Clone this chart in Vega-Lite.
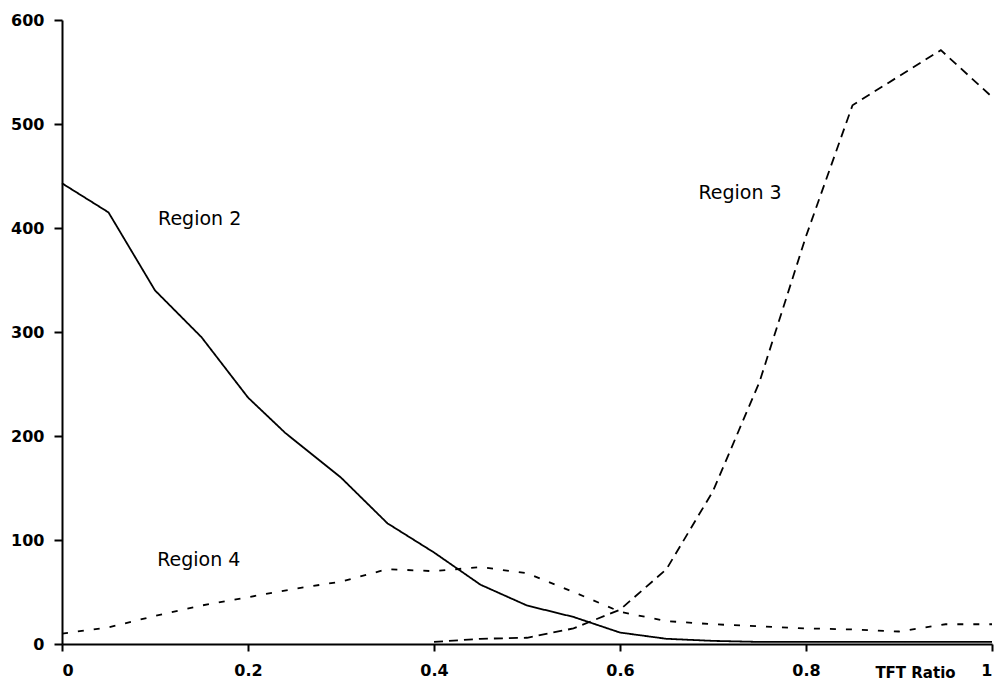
{
  "$schema": "https://vega.github.io/schema/vega-lite/v6.json",
  "width": 930,
  "height": 624,
  "autosize": {"type": "none"},
  "padding": {"left": 62, "top": 20, "right": 4, "bottom": 36},
  "background": "white",
  "config": {
    "view": {"stroke": null},
    "axis": {
      "grid": false,
      "domainColor": "black",
      "domainWidth": 2,
      "tickColor": "black",
      "tickWidth": 2,
      "labelColor": "black",
      "labelFont": "DejaVu Sans",
      "labelFontWeight": "bold",
      "labelFontSize": 16
    }
  },
  "datasets": {
    "lines": [
      {"series": "Region 2", "x": 0, "y": 443},
      {"series": "Region 2", "x": 0.05, "y": 415},
      {"series": "Region 2", "x": 0.1, "y": 340},
      {"series": "Region 2", "x": 0.15, "y": 295},
      {"series": "Region 2", "x": 0.2, "y": 237},
      {"series": "Region 2", "x": 0.24, "y": 203},
      {"series": "Region 2", "x": 0.3, "y": 160},
      {"series": "Region 2", "x": 0.35, "y": 116},
      {"series": "Region 2", "x": 0.4, "y": 88},
      {"series": "Region 2", "x": 0.45, "y": 57},
      {"series": "Region 2", "x": 0.5, "y": 37},
      {"series": "Region 2", "x": 0.55, "y": 26},
      {"series": "Region 2", "x": 0.6, "y": 11},
      {"series": "Region 2", "x": 0.65, "y": 5},
      {"series": "Region 2", "x": 0.7, "y": 3},
      {"series": "Region 2", "x": 0.75, "y": 2},
      {"series": "Region 2", "x": 0.8, "y": 2},
      {"series": "Region 2", "x": 0.85, "y": 2},
      {"series": "Region 2", "x": 0.9, "y": 2},
      {"series": "Region 2", "x": 0.95, "y": 2},
      {"series": "Region 2", "x": 1, "y": 2},
      {"series": "Region 3", "x": 0.4, "y": 2},
      {"series": "Region 3", "x": 0.45, "y": 5},
      {"series": "Region 3", "x": 0.5, "y": 6},
      {"series": "Region 3", "x": 0.55, "y": 15},
      {"series": "Region 3", "x": 0.6, "y": 33},
      {"series": "Region 3", "x": 0.65, "y": 72},
      {"series": "Region 3", "x": 0.7, "y": 147},
      {"series": "Region 3", "x": 0.75, "y": 252},
      {"series": "Region 3", "x": 0.8, "y": 392},
      {"series": "Region 3", "x": 0.85, "y": 518},
      {"series": "Region 3", "x": 0.9, "y": 546},
      {"series": "Region 3", "x": 0.945, "y": 571},
      {"series": "Region 3", "x": 1, "y": 526},
      {"series": "Region 4", "x": 0, "y": 10},
      {"series": "Region 4", "x": 0.05, "y": 16},
      {"series": "Region 4", "x": 0.1, "y": 27},
      {"series": "Region 4", "x": 0.15, "y": 37},
      {"series": "Region 4", "x": 0.2, "y": 45},
      {"series": "Region 4", "x": 0.25, "y": 53},
      {"series": "Region 4", "x": 0.3, "y": 60},
      {"series": "Region 4", "x": 0.35, "y": 72},
      {"series": "Region 4", "x": 0.4, "y": 70},
      {"series": "Region 4", "x": 0.45, "y": 74},
      {"series": "Region 4", "x": 0.5, "y": 68},
      {"series": "Region 4", "x": 0.55, "y": 50},
      {"series": "Region 4", "x": 0.6, "y": 31},
      {"series": "Region 4", "x": 0.65, "y": 22},
      {"series": "Region 4", "x": 0.7, "y": 19},
      {"series": "Region 4", "x": 0.75, "y": 17},
      {"series": "Region 4", "x": 0.8, "y": 15},
      {"series": "Region 4", "x": 0.85, "y": 14},
      {"series": "Region 4", "x": 0.9, "y": 12},
      {"series": "Region 4", "x": 0.95, "y": 19},
      {"series": "Region 4", "x": 1, "y": 19}
    ],
    "labels": [
      {"label": "Region 2", "x": 0.148, "y": 409},
      {"label": "Region 3", "x": 0.729, "y": 434},
      {"label": "Region 4", "x": 0.147, "y": 81}
    ]
  },
  "layer": [
    {
      "data": {"name": "lines"},
      "mark": {"type": "line", "strokeWidth": 1.8, "color": "black"},
      "encoding": {
        "x": {
          "field": "x",
          "type": "quantitative",
          "scale": {"domain": [0, 1], "nice": false, "zero": false},
          "axis": {
            "values": [0, 0.2, 0.4, 0.6, 0.8, 1],
            "labelExpr": "datum.value + ''",
            "tickSize": 7,
            "labelPadding": 11,
            "title": "TFT Ratio",
            "titleFont": "DejaVu Sans",
            "titleFontWeight": "bold",
            "titleFontSize": 15,
            "titleColor": "black",
            "titleX": 853,
            "titleY": 28,
            "titleAlign": "center",
            "titleBaseline": "middle",
            "titleAnchor": null
          }
        },
        "y": {
          "field": "y",
          "type": "quantitative",
          "scale": {"domain": [0, 600], "nice": false},
          "axis": {
            "values": [0, 100, 200, 300, 400, 500, 600],
            "tickSize": 8,
            "labelPadding": 10,
            "title": null
          }
        },
        "strokeDash": {
          "field": "series",
          "type": "nominal",
          "scale": {"domain": ["Region 2", "Region 3", "Region 4"], "range": [[1, 0], [9, 6], [6, 10]]},
          "legend": null
        }
      }
    },
    {
      "data": {"name": "labels"},
      "mark": {"type": "text", "font": "DejaVu Sans", "fontSize": 19, "color": "black", "align": "center", "baseline": "middle"},
      "encoding": {
        "x": {"field": "x", "type": "quantitative"},
        "y": {"field": "y", "type": "quantitative"},
        "text": {"field": "label"}
      }
    }
  ]
}
